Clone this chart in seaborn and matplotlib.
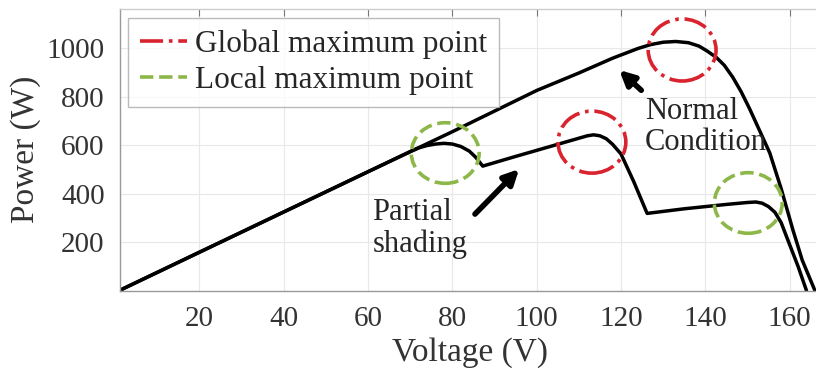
import numpy as np
import pandas as pd
import matplotlib.pyplot as plt
import seaborn as sns
from matplotlib.patches import Ellipse
from matplotlib.lines import Line2D

# P-V curves
normal_v = [1, 20, 40, 60, 80, 100, 110, 118, 124, 127, 130, 133, 136, 138.5, 140.5, 142.7, 144.5, 146.5,
            148.5, 150.5, 153, 155.3, 158, 160.8, 163, 166]
normal_p = [0, 158, 324, 490, 655, 825, 897, 958, 998, 1014, 1024, 1027, 1022, 1008, 987, 960, 929, 880,
            820, 750, 655, 567, 420, 249, 125, 0]

shade_v = [1, 20, 40, 60, 70, 72, 74, 76, 78, 80, 82, 84, 85.5, 87.2, 95, 105, 110, 112, 113.5, 115, 116.5,
           118, 120, 123, 126.2, 135, 145, 150, 152, 153.5, 155, 156.5, 158, 159.3, 162, 164]
shade_p = [0, 158, 324, 490, 573, 588, 598, 604, 607, 604, 594, 575, 550, 513, 553, 603, 628, 638, 642, 638, 626,
           603, 563, 450, 318, 337, 355, 363, 365, 360, 346, 323, 280, 221, 100, 0]

# dashed circles: (V, P) centres
global_pts = [(134.5, 992), (113.1, 612)]
local_pts = [(78.3, 567), (150.2, 361)]

x_ticks = [20, 40, 60, 80, 100, 120, 140, 160]
y_ticks = [200, 400, 600, 800, 1000]

sns.set_style('white')
plt.rcParams['font.family'] = ['Liberation Serif', 'DejaVu Serif']

red = '#d9232e'
green = '#8db849'

fig = plt.figure(figsize=(8.16, 3.76), dpi=100)
ax = fig.add_axes([120 / 816, 85.5 / 376, 700 / 816, 281.5 / 376])

df_n = pd.DataFrame({'V': normal_v, 'P': normal_p})
df_s = pd.DataFrame({'V': shade_v, 'P': shade_p})
sns.lineplot(data=df_n, x='V', y='P', ax=ax, color='black', lw=2.5, sort=False)
sns.lineplot(data=df_s, x='V', y='P', ax=ax, color='black', lw=2.5, sort=False)

# 圆圈
for v, p in global_pts:
    ax.add_patch(Ellipse((v, p), 16.1, 256, fill=False, ec=red, lw=2.6, ls='-.', zorder=4))
for v, p in local_pts:
    ax.add_patch(Ellipse((v, p), 16.1, 250, fill=False, ec=green, lw=2.6, ls='--', zorder=4))

# 箭头和文字
ax.annotate('', xy=(119.1, 917), xytext=(125.3, 818),
            arrowprops=dict(arrowstyle='-|>', color='black', lw=4, mutation_scale=22))
ax.text(125.7, 674, 'Normal\nCondition', fontsize=22, ha='left', va='center', linespacing=1.1)
ax.annotate('', xy=(96.3, 509), xytext=(84.9, 307),
            arrowprops=dict(arrowstyle='-|>', color='black', lw=4, mutation_scale=22))
ax.text(61, 257, 'Partial\nshading', fontsize=22, ha='left', va='center', linespacing=1.1)

ax.set_xlim(1.14, 1.14 + 700 / 4.215)
ax.set_ylim(0, 1161)
ax.set_xticks(x_ticks)
ax.set_yticks(y_ticks)
ax.grid(True, color='#e8e8e8', lw=0.8)
ax.set_axisbelow(True)
ax.tick_params(direction='in', length=5, color='#777777', labelsize=21, labelcolor='#333333',
               top=True, pad=11)
for s in ax.spines.values():
    s.set_color('#999999')
    s.set_linewidth(1.0)
ax.spines['top'].set_color('#cccccc')
ax.spines['right'].set_visible(False)

ax.set_xlabel('Voltage (V)', fontsize=24, color='#333333', labelpad=4)
ax.set_ylabel('Power (W)', fontsize=24, color='#333333', labelpad=4)

handles = [Line2D([], [], color=red, lw=2.6, ls='-.'),
           Line2D([], [], color=green, lw=2.6, ls='--')]
leg = ax.legend(handles, ['Global maximum point', 'Local maximum point'], loc='upper left',
                bbox_to_anchor=(8 / 700, 1 - 9 / 281.5), fontsize=22.5, frameon=True, fancybox=False,
                handlelength=1.5, handletextpad=0.25, borderpad=0.38, labelspacing=0.2, borderaxespad=0)
leg.get_frame().set_edgecolor('#aaaaaa')
leg.get_frame().set_linewidth(1.0)

plt.savefig('out.png', dpi=100)
